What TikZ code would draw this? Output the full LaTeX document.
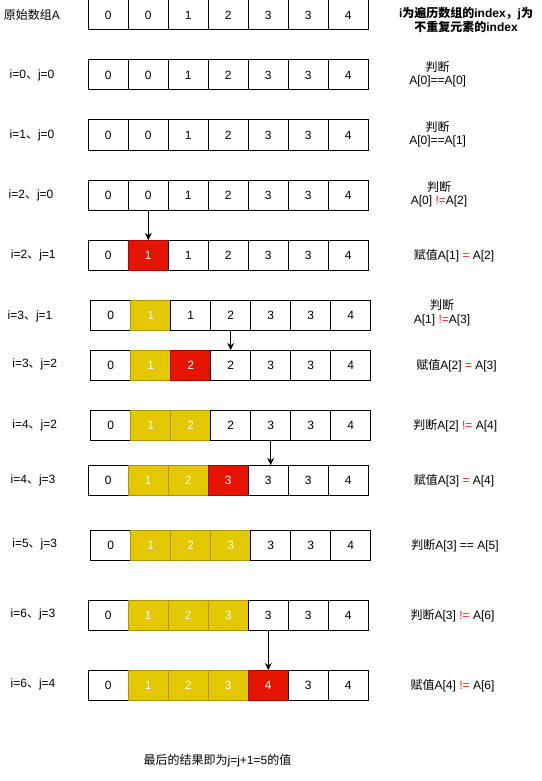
\documentclass[tikz,border=0pt]{standalone}
\usepackage{fontspec}
\setmainfont{Liberation Sans}
\newfontfamily\zh{Noto Sans CJK SC}
\usetikzlibrary{arrows.meta}
\definecolor{hlred}{HTML}{E51400}
\definecolor{hlredline}{HTML}{B20000}
\definecolor{hlyel}{HTML}{E3C800}
\definecolor{hlyelline}{HTML}{B09500}
\definecolor{neq}{HTML}{FF2020}
\begin{document}
\begin{tikzpicture}[x=1pt,y=-1pt,
    every node/.style={font=\fontsize{12}{13.5}\selectfont},
    cellw/.style={draw=black,fill=white,line width=1pt,minimum width=40pt,minimum height=30pt,inner sep=0pt,outer sep=0pt,anchor=north west},
    celly/.style={cellw,draw=hlyelline,fill=hlyel,text=white},
    cellr/.style={cellw,draw=hlredline,fill=hlred,text=white},
    arr/.style={line width=1pt,-{Stealth[length=7pt,width=7pt]}}
]
    \useasboundingbox (0,0) rectangle (541,781);
    % Arrays, eine Zeile pro Schritt
    \foreach \row/\yy/\xx/\vals in {
        0/0/88.3/{0/w,0/w,1/w,2/w,3/w,3/w,4/w},
        1/60/88.3/{0/w,0/w,1/w,2/w,3/w,3/w,4/w},
        2/120/88.3/{0/w,0/w,1/w,2/w,3/w,3/w,4/w},
        3/180/88.3/{0/w,0/w,1/w,2/w,3/w,3/w,4/w},
        4/240/88.3/{0/w,1/r,1/w,2/w,3/w,3/w,4/w},
        5/300/90.7/{0/w,1/y,1/w,2/w,3/w,3/w,4/w},
        6/350/90.7/{0/w,1/y,2/r,2/w,3/w,3/w,4/w},
        7/410/90.7/{0/w,1/y,2/y,2/w,3/w,3/w,4/w},
        8/465/88.3/{0/w,1/y,2/y,3/r,3/w,3/w,4/w},
        9/530/90.7/{0/w,1/y,2/y,3/y,3/w,3/w,4/w},
        10/600/88.3/{0/w,1/y,2/y,3/y,3/w,3/w,4/w},
        11/670/88.3/{0/w,1/y,2/y,3/y,4/r,3/w,4/w}}
        \foreach \v/\col [count=\k from 0] in \vals
            \node[cell\col] (c\row-\k) at (\xx+40*\k,\yy) {\v};
    % Beschriftung links
    \node (l0) at (32,15) {{\zh 原始数组}A};
    \node (l1) at (32,75) {i=0{\zh 、}j=0};
    \node (l2) at (32,135) {i=1{\zh 、}j=0};
    \node (l3) at (31,195) {i=2{\zh 、}j=0};
    \node (l4) at (33.3,255) {i=2{\zh 、}j=1};
    \node (l5) at (30,316) {i=3{\zh 、}j=1};
    \node (l6) at (34.7,364) {i=3{\zh 、}j=2};
    \node (l7) at (34.7,425) {i=4{\zh 、}j=2};
    \node (l8) at (33,480) {i=4{\zh 、}j=3};
    \node (l9) at (34.7,544) {i=5{\zh 、}j=3};
    \node (l10) at (33,614) {i=6{\zh 、}j=3};
    \node (l11) at (33,684) {i=6{\zh 、}j=4};
    % Beschriftung rechts
    \node[align=center,font=\bfseries\fontsize{12}{12.5}\selectfont] (r0) at (466,20) {i{\zh 为遍历数组的}index{\zh ，}j{\zh 为}\\{\zh 不重复元素的}index};
    \node[align=center] (r1) at (437.7,74.3) {{\zh 判断}\\A[0]==A[0]};
    \node[align=center] (r2) at (437.7,134.3) {{\zh 判断}\\A[0]==A[1]};
    \node[align=center] (r3) at (439,194.3) {{\zh 判断}\\A[0] \textcolor{neq}{!=}A[2]};
    \node (r4) at (454,255.5) {{\zh 赋值}A[1] \textcolor{neq}{=} A[2]};
    \node[align=center] (r5) at (442,312.5) {{\zh 判断}\\A[1] \textcolor{neq}{!=}A[3]};
    \node (r6) at (456.5,366) {{\zh 赋值}A[2] \textcolor{neq}{=} A[3]};
    \node (r7) at (455.3,425.7) {{\zh 判断}A[2] \textcolor{neq}{!=} A[4]};
    \node (r8) at (454,481) {{\zh 赋值}A[3] \textcolor{neq}{=} A[4]};
    \node (r9) at (455,545.7) {{\zh 判断}A[3] == A[5]};
    \node (r10) at (452.5,615.7) {{\zh 判断}A[3] \textcolor{neq}{!=} A[6]};
    \node (r11) at (452.5,685.7) {{\zh 赋值}A[4] \textcolor{neq}{!=} A[6]};
    \node (res) at (217.5,761) {{\zh 最后的结果即为}j=j+1=5{\zh 的值}};
    % Pfeile
    \draw[arr] (c3-1.south) -- (c4-1.north);
    \draw[arr] (c5-3.south) -- (c6-3.north);
    \draw[arr] (c7-4.south) -- (c7-4.south |- c8-4.north);
    \draw[arr] (c10-4.south) -- (c11-4.north);
\end{tikzpicture}
\end{document}
